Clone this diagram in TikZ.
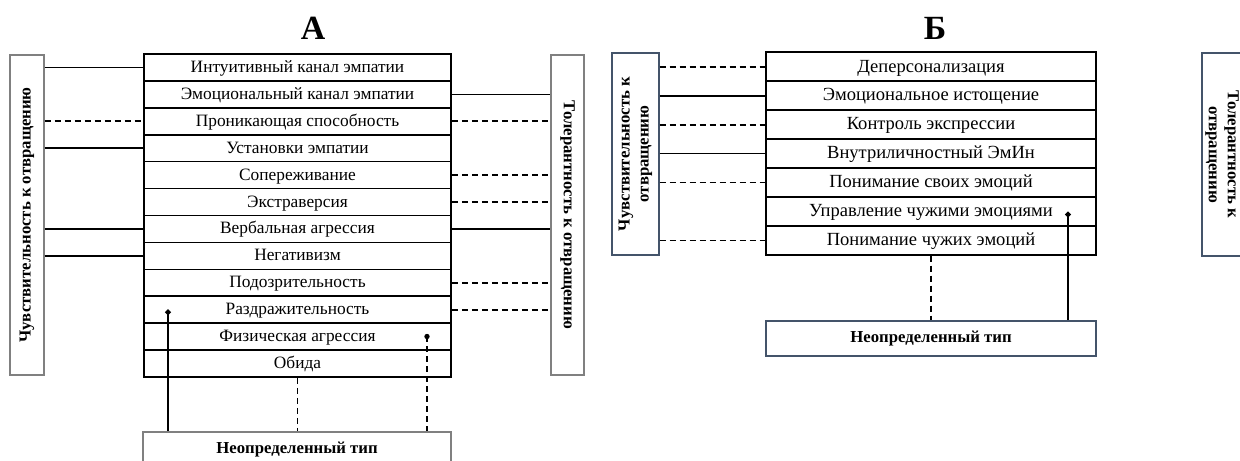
\documentclass[tikz,border=0pt]{standalone}
\usepackage{fontspec}
\setmainfont{Liberation Serif}
\usetikzlibrary{arrows.meta, positioning}
\definecolor{boxgray}{RGB}{128,128,128}
\definecolor{boxslate}{RGB}{68,84,106}
\tikzset{
    rowA/.style={draw, line width=1.6bp, minimum width=307bp, minimum height=26.92bp, inner sep=0pt, text height=12bp, text depth=2bp, font=\fontsize{17.4}{20}\selectfont},
    rowB/.style={draw, line width=1.6bp, minimum width=330bp, minimum height=28.95bp, inner sep=0pt, text height=12.5bp, text depth=2bp, font=\fontsize{18.6}{21}\selectfont},
    sidebox/.style={draw=#1, line width=1.4bp, inner sep=0pt, align=center, font=\bfseries\fontsize{16.8}{19}\selectfont},
    sidebox/.default=boxgray,
    link/.style={line width=1.7bp},
    dlink/.style={line width=1.7bp, dash pattern=on 6bp off 4bp},
    dotlink/.style={line width=1.7bp, {Circle[length=5.5bp]}-}
}
\begin{document}
\begin{tikzpicture}[x=1bp, y=-1bp]
    \useasboundingbox (0,0) rectangle (1240,461);
    \clip (0,0) rectangle (1240,461);
    % titles
    \node[font=\bfseries\fontsize{34}{36}\selectfont] (tA) at (313,28) {А};
    \node[font=\bfseries\fontsize{34}{36}\selectfont] (tB) at (935,28) {Б};
    %% panel A
    \foreach \t [count=\i] in {Интуитивный канал эмпатии, Эмоциональный канал эмпатии,
        Проникающая способность, Установки эмпатии, Сопереживание, Экстраверсия,
        Вербальная агрессия, Негативизм, Подозрительность, Раздражительность,
        Физическая агрессия, Обида}
        \node[rowA] (a\i) at (297.5, {54+26.92*(\i-0.5)}) {\t};
    \node[sidebox, rotate=90, minimum width=320bp, minimum height=34bp] (la) at (27,215) {Чувствительность к отвращению};
    \node[sidebox, rotate=-90, minimum width=320bp, minimum height=33bp] (ra) at (567.5,215) {Толерантность к отвращению};
    \node[sidebox, minimum width=308bp, minimum height=36bp] (ua) at (297,450) {Неопределенный тип};
    % la.south / ra.south are the inner sides (rotated)
    \draw[link] (la.south |- a1) -- (a1.west);
    \draw[dlink] (la.south |- a3) -- (a3.west);
    \draw[link] (la.south |- a4) -- (a4.west);
    \draw[link] (la.south |- a7) -- (a7.west);
    \draw[link] (la.south |- a8) -- (a8.west);
    \draw[link] (a2.east) -- (a2 -| ra.south);
    \draw[dlink] (a3.east) -- (a3 -| ra.south);
    \draw[dlink] (a5.east) -- (a5 -| ra.south);
    \draw[dlink] (a6.east) -- (a6 -| ra.south);
    \draw[link] (a7.east) -- (a7 -| ra.south);
    \draw[dlink] (a9.east) -- (a9 -| ra.south);
    \draw[dlink] (a10.east) -- (a10 -| ra.south);
    \coordinate (pa1) at (168,309.6);
    \coordinate (pa2) at (427,336.5);
    \draw[dotlink] (pa1) -- (pa1 |- ua.north);
    \draw[dlink] (a12.south) -- (a12.south |- ua.north);
    \draw[dlink] (pa2) -- (pa2 |- ua.north);
    \fill (pa2) circle (2.7);
    %% panel B
    \foreach \t [count=\i] in {Деперсонализация, Эмоциональное истощение, Контроль экспрессии,
        Внутриличностный ЭмИн, Понимание своих эмоций, Управление чужими эмоциями,
        Понимание чужих эмоций}
        \node[rowB] (b\i) at (931, {52.3+28.95*(\i-0.5)}) {\t};
    \node[sidebox=boxslate, rotate=90, minimum width=202bp, minimum height=47bp] (lb) at (635.5,154) {Чувствительность к\\отвращению};
    \node[sidebox=boxslate, rotate=-90, minimum width=203bp, minimum height=40bp] (rb) at (1222,154.5) {Толерантность к\\отвращению};
    \node[sidebox=boxslate, minimum width=330bp, minimum height=35bp] (ub) at (931,338.5) {Неопределенный тип};
    \draw[dlink] (lb.south |- b1) -- (b1.west);
    \draw[link] (lb.south |- b2) -- (b2.west);
    \draw[dlink] (lb.south |- b3) -- (b3.west);
    \draw[link] (lb.south |- b4) -- (b4.west);
    \draw[dlink] (lb.south |- b5) -- (b5.west);
    \draw[dlink] (lb.south |- b7) -- (b7.west);
    \coordinate (pb1) at (1068,211.8);
    \draw[dlink] (b7.south) -- (b7.south |- ub.north);
    \draw[dotlink] (pb1) -- (pb1 |- ub.north);
\end{tikzpicture}
\end{document}
